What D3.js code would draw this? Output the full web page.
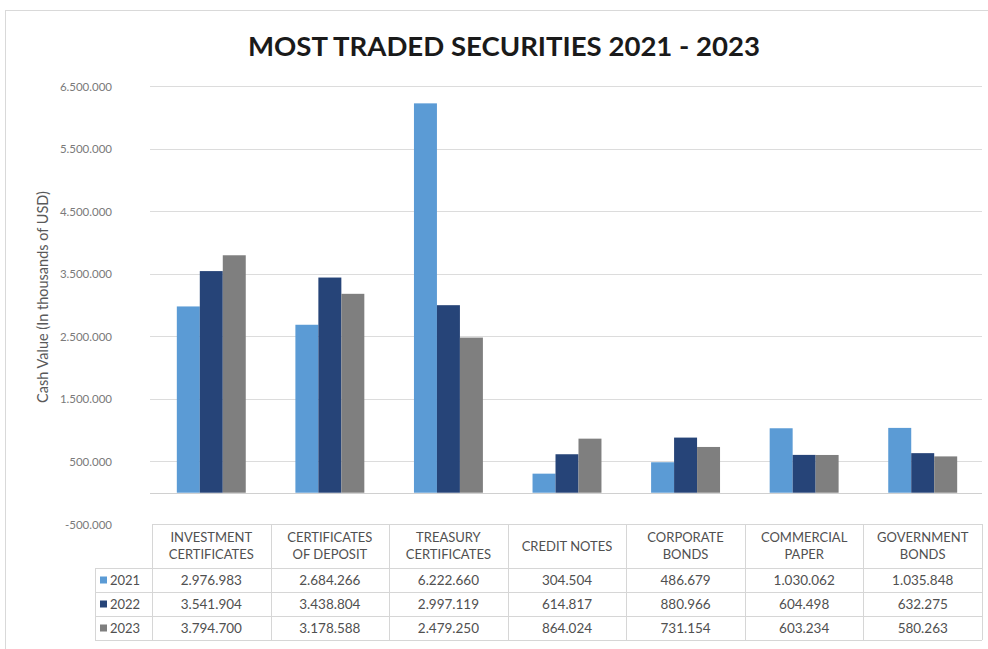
<!DOCTYPE html>
<html>
<head>
<meta charset="utf-8">
<script src="https://cdn.jsdelivr.net/npm/d3@7"></script>
<style>
  html, body { margin: 0; padding: 0; background: #fff; }
  svg { display: block; }
</style>
</head>
<body>
<svg id="chart" width="988" height="649"></svg>
<script>
// Securities traded per year (cash value, thousands of USD)
const categories = [
  "INVESTMENT CERTIFICATES",
  "CERTIFICATES OF DEPOSIT",
  "TREASURY CERTIFICATES",
  "CREDIT NOTES",
  "CORPORATE BONDS",
  "COMMERCIAL PAPER",
  "GOVERNMENT BONDS"
];
// Header text split into lines for the data table
const categoryLines = [
  ["INVESTMENT", "CERTIFICATES"],
  ["CERTIFICATES", "OF DEPOSIT"],
  ["TREASURY", "CERTIFICATES"],
  ["CREDIT NOTES"],
  ["CORPORATE", "BONDS"],
  ["COMMERCIAL", "PAPER"],
  ["GOVERNMENT", "BONDS"]
];
const years = ["2021", "2022", "2023"];
const values2021 = [2976983, 2684266, 6222660, 304504, 486679, 1030062, 1035848];
const values2022 = [3541904, 3438804, 2997119, 614817, 880966, 604498, 632275];
const values2023 = [3794700, 3178588, 2479250, 864024, 731154, 603234, 580263];
const seriesValues = [values2021, values2022, values2023];
const seriesColors = ["#5b9bd5", "#264478", "#7f7f7f"];
const yTicks = [-500000, 500000, 1500000, 2500000, 3500000, 4500000, 5500000, 6500000];

const chartTitle = "MOST TRADED SECURITIES 2021 - 2023";
const yAxisTitle = "Cash Value (In thousands of USD)";

// Dotted thousands separator, plain hyphen for negatives
const locale = d3.formatLocale({ decimal: ",", thousands: ".", grouping: [3], currency: ["", ""], minus: "-" });
const fmt = locale.format(",d");

const svg = d3.select("#chart");
const font = "Lato, 'Open Sans', sans-serif";
const textColor = "#505050";

// Chart frame
svg.append("rect")
  .attr("x", 5.5).attr("y", 10.5)
  .attr("width", 1000).attr("height", 700)
  .attr("fill", "#fff")
  .attr("stroke", "#d9d9d9");

const plot = { left: 152, right: 982, top: 86, bottom: 524 };

const y = d3.scaleLinear()
  .domain([yTicks[0], yTicks[yTicks.length - 1]])
  .range([plot.bottom, plot.top]);

const x0 = d3.scaleBand()
  .domain(categories)
  .range([plot.left, plot.right])
  .padding(0);

const x1 = d3.scaleBand()
  .domain(years)
  .range([0, x0.bandwidth()])
  .paddingInner(0)
  .paddingOuter(1.08);

// Title
svg.append("text")
  .attr("x", 504).attr("y", 56)
  .attr("text-anchor", "middle")
  .attr("font-family", font)
  .attr("font-weight", 700)
  .attr("font-size", 26)
  .attr("fill", "#1a1a1a")
  .attr("textLength", 512)
  .attr("lengthAdjust", "spacingAndGlyphs")
  .text(chartTitle);

// Gridlines
svg.append("g")
  .selectAll("line")
  .data(yTicks.slice(1))
  .join("line")
  .attr("x1", plot.left - 2).attr("x2", plot.right)
  .attr("y1", d => Math.round(y(d)) + 0.5)
  .attr("y2", d => Math.round(y(d)) + 0.5)
  .attr("stroke", "#dcdcdc")
  .attr("stroke-width", 1.2);

// Y axis labels
const yAxis = d3.axisLeft(y).tickValues(yTicks).tickFormat(fmt).tickSize(0).tickPadding(0);
const yg = svg.append("g")
  .attr("transform", `translate(112,0)`)
  .call(yAxis);
yg.select(".domain").remove();
yg.selectAll("text")
  .attr("font-family", font)
  .attr("font-size", 11.5)
  .attr("fill", "#7a7a7a")
  .attr("dy", "0.35em");

// Y axis title
svg.append("text")
  .attr("transform", `translate(48,${297}) rotate(-90)`)
  .attr("text-anchor", "middle")
  .attr("font-family", font)
  .attr("font-size", 14.5)
  .attr("fill", "#595959")
  .text(yAxisTitle);

// Bars
const groups = svg.append("g")
  .selectAll("g")
  .data(categories)
  .join("g")
  .attr("transform", d => `translate(${x0(d)},0)`);

groups.selectAll("rect")
  .data((d, i) => years.map((yr, s) => ({ yr, s, v: seriesValues[s][i] })))
  .join("rect")
  .attr("x", d => x1(d.yr))
  .attr("width", x1.bandwidth())
  .attr("y", d => y(Math.max(0, d.v)))
  .attr("height", d => Math.abs(y(d.v) - y(0)))
  .attr("fill", d => seriesColors[d.s]);

// Zero axis line
svg.append("line")
  .attr("x1", plot.left - 2).attr("x2", plot.right)
  .attr("y1", Math.round(y(0)) + 0.5).attr("y2", Math.round(y(0)) + 0.5)
  .attr("stroke", "#d0d0d0")
  .attr("stroke-width", 1.2);

// Data table
const table = { top: plot.bottom, headerH: 44, rowH: 24, legendLeft: 95 };
const tableColor = "#d6d6d6";
const tg = svg.append("g");
const rowTop = i => table.top + table.headerH + i * table.rowH;
const tableBottom = rowTop(years.length);

// Horizontal rules
tg.append("line")
  .attr("x1", plot.left).attr("x2", plot.right)
  .attr("y1", table.top + 0.5).attr("y2", table.top + 0.5)
  .attr("stroke", tableColor);
tg.selectAll("line.row")
  .data(d3.range(years.length + 1))
  .join("line")
  .attr("class", "row")
  .attr("x1", table.legendLeft).attr("x2", plot.right)
  .attr("y1", i => rowTop(i) + 0.5).attr("y2", i => rowTop(i) + 0.5)
  .attr("stroke", tableColor);

// Vertical rules
const colEdges = categories.map(c => x0(c)).concat([plot.right]);
tg.selectAll("line.col")
  .data(colEdges)
  .join("line")
  .attr("class", "col")
  .attr("x1", d => Math.round(d) + 0.5).attr("x2", d => Math.round(d) + 0.5)
  .attr("y1", table.top).attr("y2", tableBottom)
  .attr("stroke", tableColor);
tg.append("line")
  .attr("x1", table.legendLeft + 0.5).attr("x2", table.legendLeft + 0.5)
  .attr("y1", rowTop(0)).attr("y2", tableBottom)
  .attr("stroke", tableColor);

// Header text
categories.forEach((c, i) => {
  const lines = categoryLines[i];
  const cx = x0(c) + x0.bandwidth() / 2;
  const cy = table.top + table.headerH / 2;
  const lh = 17;
  lines.forEach((ln, k) => {
    tg.append("text")
      .attr("x", cx)
      .attr("y", cy + (k - (lines.length - 1) / 2) * lh)
      .attr("dy", "0.35em")
      .attr("text-anchor", "middle")
      .attr("font-family", font)
      .attr("font-size", 13)
      .attr("fill", textColor)
      .text(ln);
  });
});

// Legend keys and values
years.forEach((yr, s) => {
  const cy = rowTop(s) + table.rowH / 2;
  tg.append("rect")
    .attr("x", 100).attr("y", cy - 3.5)
    .attr("width", 7).attr("height", 7)
    .attr("fill", seriesColors[s]);
  tg.append("text")
    .attr("x", 110).attr("y", cy)
    .attr("dy", "0.35em")
    .attr("font-family", font)
    .attr("font-size", 13)
    .attr("fill", textColor)
    .text(yr);
  categories.forEach((c, i) => {
    tg.append("text")
      .attr("x", x0(c) + x0.bandwidth() / 2).attr("y", cy)
      .attr("dy", "0.35em")
      .attr("text-anchor", "middle")
      .attr("font-family", font)
      .attr("font-size", 13.5)
      .attr("fill", textColor)
      .text(fmt(seriesValues[s][i]));
  });
});
</script>
</body>
</html>
